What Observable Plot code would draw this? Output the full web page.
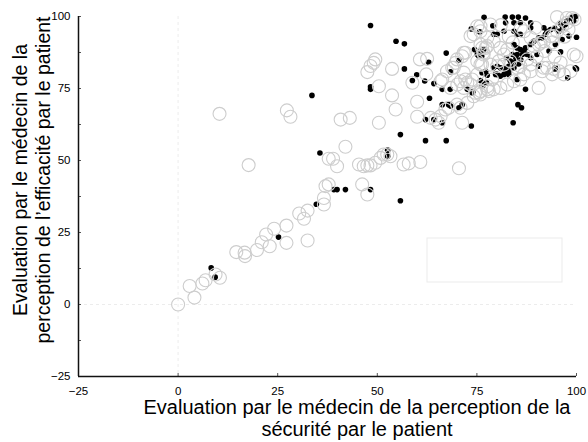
<!DOCTYPE html>
<html><head><meta charset="utf-8">
<script src="https://cdn.jsdelivr.net/npm/d3@7"></script>
<script src="https://cdn.jsdelivr.net/npm/@observablehq/plot@0.6"></script>
<style>body{margin:0;background:#fff}#chart{width:588px;height:442px}</style>
</head><body><div id="chart"></div>
<script>
const xTicks = [-25, 0, 25, 50, 75, 100];
const yTicks = [-25, 0, 25, 50, 75, 100];
const xMinorTicks = [0, 25, 50, 75, 100];
const yMinorTicks = [-12.5, 0, 12.5, 25, 37.5, 50, 62.5, 75, 87.5, 100];
const xTitle = ["Evaluation par le médecin de la perception de la", "sécurité par le patient"];
const yTitle = ["Evaluation par le médecin de la", "perception de l’efficacité par le patient"];

// hollow grey circles
const circles = [
[0,0],[2.9,6.4],[4.1,2.4],[6.1,7.3],[6.9,8.4],[9.4,10.4],[10.5,9.3],[14.6,18.2],[16.7,18.0],[16.8,16.8],
[19.8,18.9],[21.0,21.6],[22.1,24.3],[23.0,20.2],[24.1,26.3],[27.2,27.4],[27.2,21.4],[30.4,31.6],[31.6,29.8],
[32.5,32.6],[32.5,22.2],
[10.4,66.2],[17.7,48.4],[27.3,67.4],[28.2,65.2],
[36.6,34.7],[36.6,37.0],[37.0,41.1],[37.8,41.7],[46.2,41.7],[47.5,38.2],
[37.8,50.6],[38.9,50.6],[39.9,48.0],[42.0,54.8],[40.8,64.2],[43.1,64.8],
[45.4,48.6],[46.6,48.0],[47.5,48.3],[48.3,48.3],[49.5,49.2],[50.8,50.9],[51.6,52.1],[52.5,52.1],[53.3,51.5],
[56.6,48.6],[57.9,49.0],[60.8,49.5],[70.5,47.3],
[47.5,80.7],[48.3,82.8],[49.1,83.9],[49.5,85.1],[50.4,75.8],[53.7,81.8],[53.7,72.6],[54.6,67.7],[50.4,63.1],
[60.0,70.4],[60.0,65.2],[60.7,85.1],[62.3,79.9],[62.5,85.3],[63.4,64.8],[64.6,64.2],[65.4,63.1],[65.9,65.4],
[67.1,67.7],[67.9,68.3],[70.0,69.4],[70.9,68.3],[72.6,70.0],[74.2,72.3],[75.5,73.5],[71.3,63.1],
[58.8,77.0],[65.9,77.5],[66.3,78.1],[68.8,82.2],[69.6,83.9],[71.3,86.2],[72.1,87.4],[73.4,93.2],[75.1,96.6],
[75.9,94.9],[75.9,90.3],[77.2,89.1],[75.1,84.5],[75.9,83.3],[71.7,80.5],[70.9,77.5],[68.4,75.2],[70.1,76.4],
[72.1,78.1],[73.4,76.4],[74.6,73.5],[75.9,74.1],[77.6,74.7],
[75.9,96.6],[74.2,93.8],[77.6,89.7],[76.6,87.4],[70.0,85.1],[71.7,87.4],[69.2,82.2],[67.5,81.0],
[78.8,78.1],[77.6,75.8],[75.1,79.9],[73.8,78.1],[72.6,77.0],[71.7,75.2],
[99.3,86.8],[100,86.2],[98.9,99.5],[97.6,97.8],[96.4,96.6],[95.1,94.9],[93.5,93.2],[91.8,91.4],[90.5,90.3],
[92.6,82.2],[91.4,81.0],[93.9,79.9],[96.8,79.9],[95.6,81.0],[98.5,81.0],[90.5,75.2],[88.5,81.0],[86.8,79.9],
[85.9,78.1],[84.3,77.5],[82.6,76.4],[80.9,75.2],[79.2,74.7],[78.0,74.1],[78.4,97.2],[77.6,92.6],[79.2,91.4],
[80.9,89.1],[82.6,88.5],[81.8,86.8],[80.5,84.5],[78.4,83.3],[86.8,94.9],[88.5,92.6],[89.7,96.1],[87.6,85.1],
[85.9,82.7],[88.5,83.3],[75.9,72.9],[76.3,89.1],[76.7,86.8],[76.3,83.3],
[95.1,99.8],[97.6,99.5],[89.3,89.7],[91.0,90.9],[94.3,93.2],[91.8,82.2],[94.3,81.8],[85.1,82.2],[83.4,84.5],
[81.8,83.3],[80.1,82.7],[99.5,99.0],[98.0,95.5],[97.0,93.0],[94.0,91.0],[92.0,88.0],[90.0,86.0],[94.5,86.0],
[96.0,84.0],[84.0,91.0],[86.0,96.0],[83.0,93.0],[81.0,97.0]
];

// small black dots
const dots = [
[8.3,12.7],[9.3,9.5],[25.2,23.4],[34.7,34.8],[33.6,72.6],[35.6,52.6],[39.1,39.9],[39.9,39.9],[42.0,39.9],
[48.3,39.9],[55.8,36.0],[48.3,96.9],[54.7,91.4],[56.8,90.5],[56.8,81.8],[48.3,75.6],[48.3,74.7],[52.6,53.6],
[52.6,51.5],[55.8,59.0],[62.1,56.9],[67.3,56.9],[73.6,62.0],[62.1,64.2],[64.2,64.2],[66.3,63.1],[63.1,71.6],
[66.3,69.4],[67.9,69.4],[68.4,68.9],[70.5,68.3],[71.3,69.4],[73.8,73.5],[72.6,74.7],[74.0,73.9],[66.3,74.7],
[68.3,74.7],[59.9,79.8],[58.8,77.8],[61.9,77.6],[64.2,76.7],[62.9,84.1],[67.3,87.3],[68.4,80.8],[70.5,84.8],
[76.8,99.7],[82.1,99.8],[83.9,99.8],[85.4,99.8],[87.2,99.5],[79.0,96.8],[73.6,95.7],[75.7,94.7],[82.2,97.8],
[84.3,97.8],[85.9,97.8],[79.2,93.8],[80.1,93.8],[81.8,94.9],[84.3,94.9],[85.1,93.8],[85.9,93.8],[88.5,97.8],
[88.5,96.1],[91.8,96.1],[92.6,94.9],[91.4,92.6],[92.2,93.8],[95.6,94.9],[97.2,97.2],[98.5,99.5],[99.8,100],
[99.3,98.4],[97.6,98.4],[100,92.8],[74.4,88.5],[75.5,86.2],[75.1,86.8],[75.9,88.0],[76.7,88.5],[76.2,86.2],
[77.2,81.0],[77.6,79.6],[75.9,77.8],[76.7,76.4],[77.4,77.0],[76.3,75.8],[80.1,79.9],[80.9,82.2],[81.9,81.9],
[83.0,81.0],[83.0,79.9],[84.3,90.3],[85.1,89.1],[85.9,88.5],[87.2,89.1],[88.5,90.3],[89.3,91.4],[90.5,92.6],
[83.9,86.8],[85.1,86.8],[86.4,86.8],[87.6,86.8],[83.4,84.5],[83.9,83.3],[84.3,82.2],[83.0,82.7],[82.6,81.0],
[81.8,79.9],[80.9,79.3],[80.1,82.7],[79.7,79.9],[79.2,82.2],[90.5,82.7],[94.7,82.2],[99.7,82.2],[97.8,78.7],
[87.2,74.7],[85.1,78.1],[76.3,80.5],[93.1,88.0],[94.7,90.3],[96.4,92.0],[98.1,93.2],[88.5,85.7],[90.1,86.8],
[96.0,87.7],[90.5,83.0],[85.3,69.4],[86.2,68.3],[84.1,63.1],[94.6,81.8],[100,81.8],
[84.8,85.5],[86.0,85.0],[84.5,84.0],[85.5,83.5],[86.8,88.0],[82.5,85.5],
[93.5,95.5],[94.5,96.0],[96.0,97.5],[98.8,99.8],[96.5,95.8]
];

const font = "'Liberation Sans', Arial, Helvetica, sans-serif";

const chart = Plot.plot({
  width: 588, height: 442,
  marginLeft: 78, marginRight: 12, marginTop: 16, marginBottom: 66,
  style: {fontFamily: font, fontSize: "11.5px", color: "#000", background: "#fff", overflow: "visible"},
  x: {domain: [-25, 100]},
  y: {domain: [-25, 100]},
  marks: [
    Plot.ruleX([0], {stroke: "#ececec", strokeDasharray: "3,3"}),
    Plot.ruleY([0], {stroke: "#ececec", strokeDasharray: "3,3"}),
    Plot.dot(dots, {x: d => d[0], y: d => d[1], r: 2.8, fill: "#000", stroke: null}),
    Plot.dot(circles, {x: d => d[0], y: d => d[1], r: 6.5, fill: "none", stroke: "#cdcdcd", strokeWidth: 1.1}),
    Plot.axisX({ticks: xTicks, tickSize: 0, tickPadding: 10, label: null, fill: "#000"}),
    Plot.axisY({ticks: yTicks, tickSize: 0, tickPadding: 8, label: null, fill: "#000"}),
    Plot.axisX({ticks: xMinorTicks, tickSize: -3, text: null, label: null, stroke: "#555"}),
    Plot.axisY({ticks: yMinorTicks, tickSize: -3, text: null, label: null, stroke: "#555"}),
    Plot.ruleX([-25], {stroke: "#111", strokeWidth: 1.5}),
    Plot.ruleY([-25], {stroke: "#111", strokeWidth: 1.5})
  ]
});

const svg = d3.select(chart);
// empty legend frame
svg.append("rect").attr("x", 427).attr("y", 238).attr("width", 135).attr("height", 44)
  .attr("fill", "none").attr("stroke", "#ebebeb");
// x axis title
xTitle.forEach((t, i) => {
  svg.append("text").attr("x", 357).attr("y", 414 + i * 22).attr("text-anchor", "middle")
    .style("font-family", font).style("font-size", "20px").attr("fill", "#000").text(t);
});
// y axis title
yTitle.forEach((t, i) => {
  svg.append("text").attr("transform", `translate(${27 + i * 23},180) rotate(-90)`).attr("text-anchor", "middle")
    .style("font-family", font).style("font-size", "19.5px").attr("fill", "#000").text(t);
});
document.getElementById("chart").append(chart);
</script></body></html>
